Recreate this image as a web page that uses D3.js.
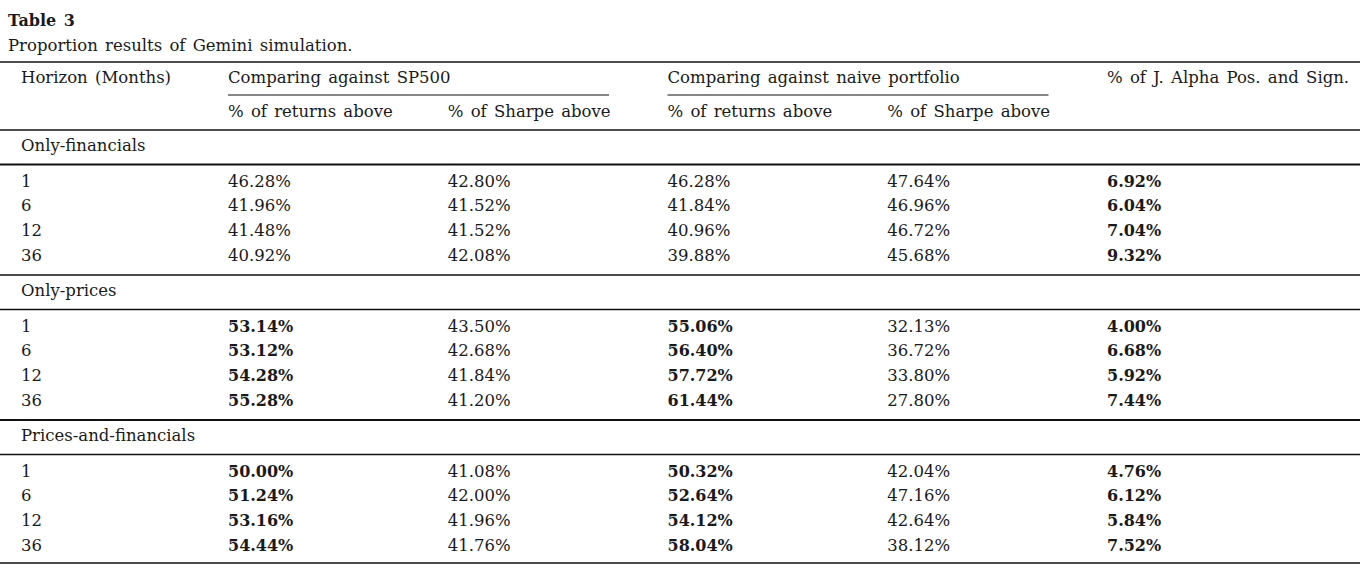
<!DOCTYPE html>
<html>
<head>
<meta charset="utf-8">
<script src="https://cdn.jsdelivr.net/npm/d3@7"></script>
<style>
    body { margin: 0; background: #fff; }
    svg text { font-family: 'DejaVu Serif', serif; fill: #1a1a1a; word-spacing: 2px; }
    .title { font-weight: bold; font-size: 16px; }
    .caption { font-size: 16.5px; }
    .cell { font-size: 16.5px; }
    .cell.bold { font-weight: bold; font-size: 16px; }
</style>
</head>
<body>
<div id="table"></div>
<script>
const horizons = [1, 6, 12, 36]
const groups = ['Only-financials', 'Only-prices', 'Prices-and-financials']
const columns = ['retSP', 'sharpeSP', 'retNaive', 'sharpeNaive', 'alpha']
const spanHeaders = ['Comparing against SP500', 'Comparing against naive portfolio']
const subHeaders = ['% of returns above', '% of Sharpe above', '% of returns above', '% of Sharpe above']

// one array per group, rows = horizons, cols = columns
const onlyFinancials = [
    [46.28, 42.80, 46.28, 47.64, 6.92],
    [41.96, 41.52, 41.84, 46.96, 6.04],
    [41.48, 41.52, 40.96, 46.72, 7.04],
    [40.92, 42.08, 39.88, 45.68, 9.32]
]
const onlyPrices = [
    [53.14, 43.50, 55.06, 32.13, 4.00],
    [53.12, 42.68, 56.40, 36.72, 6.68],
    [54.28, 41.84, 57.72, 33.80, 5.92],
    [55.28, 41.20, 61.44, 27.80, 7.44]
]
const pricesAndFinancials = [
    [50.00, 41.08, 50.32, 42.04, 4.76],
    [51.24, 42.00, 52.64, 47.16, 6.12],
    [53.16, 41.96, 54.12, 42.64, 5.84],
    [54.44, 41.76, 58.04, 38.12, 7.52]
]
// columns printed in bold for each group
const boldCols = [
    ['alpha'],
    ['retSP', 'retNaive', 'alpha'],
    ['retSP', 'retNaive', 'alpha']
]
const groupValues = [onlyFinancials, onlyPrices, pricesAndFinancials]

const dim = { width: 1360, height: 571 }

const wrapper = d3.select('#table')
    .append('svg')
    .attr('width', dim.width)
    .attr('height', dim.height)

const xScale = d3.scalePoint()
    .domain(columns)
    .range([228, 1107])
const firstX = 21

const groupY = d3.scaleLinear()
    .domain([0, groups.length - 1])
    .range([145, 435])
const rowY = d3.scaleLinear()
    .domain([0, horizons.length - 1])
    .range([36, 110])
const base = 5.5

wrapper.append('text').attr('class', 'title')
    .attr('x', 8).attr('y', 20 + base)
    .text('Table 3')
wrapper.append('text').attr('class', 'caption')
    .attr('x', 8).attr('y', 45 + base)
    .text('Proportion results of Gemini simulation.')

// header
const header = wrapper.append('g')
header.append('text').attr('class', 'cell')
    .attr('x', firstX).attr('y', 77 + base)
    .text('Horizon (Months)')
header.selectAll('.span').data(spanHeaders)
    .join('text').attr('class', 'cell span')
    .attr('x', (d, i) => xScale(columns[i * 2]))
    .attr('y', 77 + base)
    .text(d => d)
header.append('text').attr('class', 'cell')
    .attr('x', xScale('alpha')).attr('y', 77 + base)
    .text('% of J. Alpha Pos. and Sign.')
header.selectAll('.span-line').data(spanHeaders)
    .join('line')
    .attr('x1', (d, i) => xScale(columns[i * 2]))
    .attr('x2', (d, i) => xScale(columns[i * 2]) + 381)
    .attr('y1', 95).attr('y2', 95)
    .attr('stroke', '#111').attr('stroke-width', 1.2)
header.selectAll('.sub').data(subHeaders)
    .join('text').attr('class', 'cell sub')
    .attr('x', (d, i) => xScale(columns[i]))
    .attr('y', 111 + base)
    .text(d => d)

const rules = [
    { y: 62, w: 1.3 },
    { y: 563, w: 1.3 }
]
groups.forEach((g, gi) => {
    rules.push({ y: groupY(gi) - 15, w: gi == 2 ? 2.2 : 1.3 })
    rules.push({ y: groupY(gi) + 19.5, w: gi == 0 ? 2.2 : 1.3 })
})
wrapper.selectAll('.rule').data(rules)
    .join('line').attr('class', 'rule')
    .attr('x1', 0).attr('x2', dim.width)
    .attr('y1', d => d.y).attr('y2', d => d.y)
    .attr('stroke', '#111').attr('stroke-width', d => d.w)

const body = wrapper.selectAll('.group').data(groups)
    .join('g').attr('class', 'group')
    .attr('transform', (d, i) => `translate(0, ${groupY(i)})`)
body.append('text').attr('class', 'cell')
    .attr('x', firstX).attr('y', base)
    .text(d => d)

body.each(function (g, gi) {
    const rows = d3.select(this).selectAll('.row')
        .data(groupValues[gi])
        .join('g').attr('class', 'row')
        .attr('transform', (d, i) => `translate(0, ${rowY(i)})`)
    rows.append('text').attr('class', 'cell')
        .attr('x', firstX).attr('y', base)
        .text((d, i) => horizons[i])
    rows.selectAll('.val')
        .data(d => d.map((v, ci) => ({ v, col: columns[ci] })))
        .join('text')
        .attr('class', d => `cell val${boldCols[gi].includes(d.col) ? ' bold' : ''}`)
        .attr('x', d => xScale(d.col))
        .attr('y', base)
        .text(d => d3.format('.2f')(d.v) + '%')
})
</script>
</body>
</html>
